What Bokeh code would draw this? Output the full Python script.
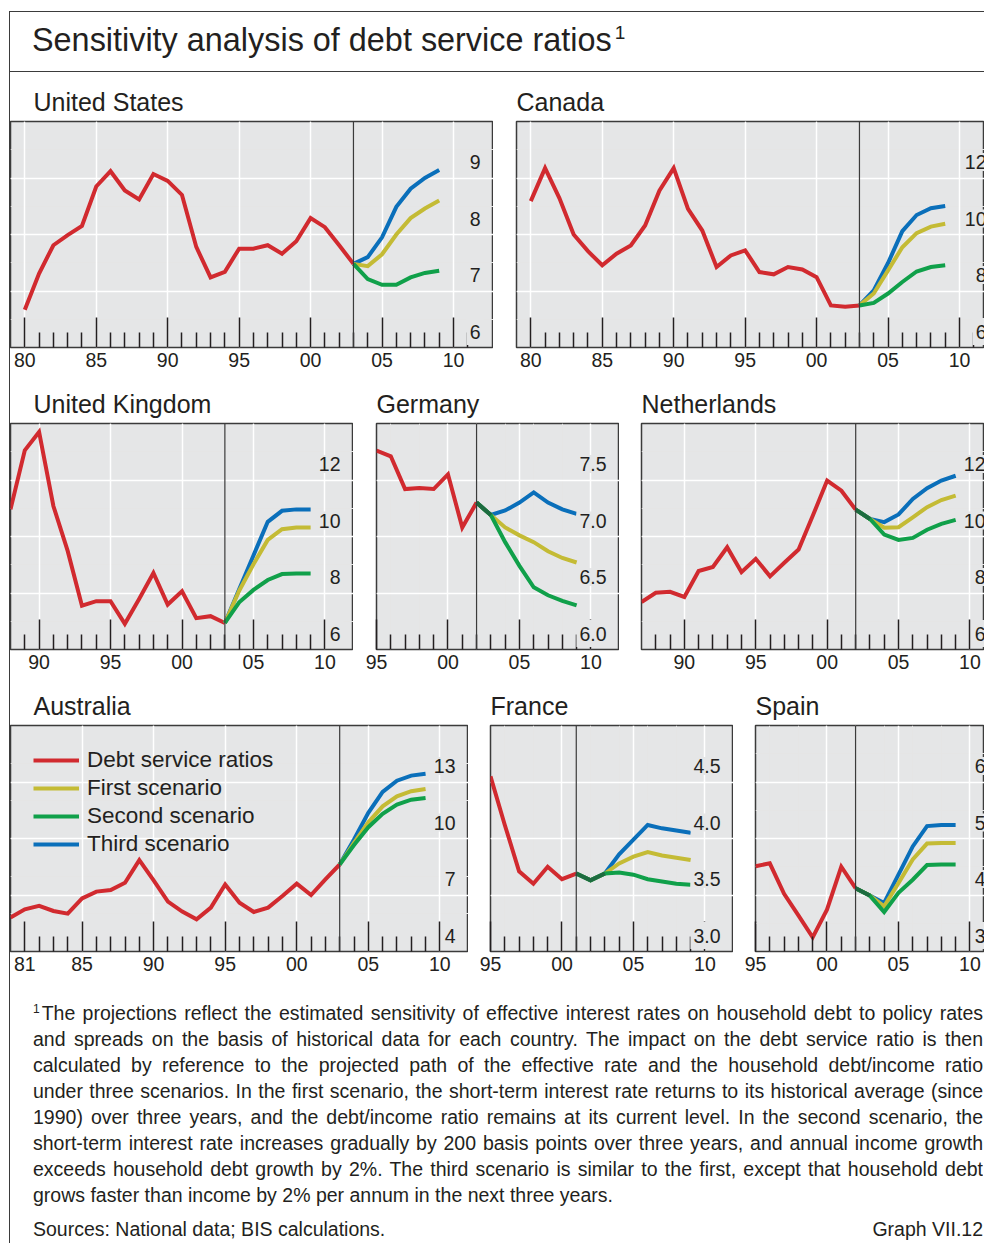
from bokeh.plotting import figure
from bokeh.models import (Range1d, FixedTicker, LinearAxis, Grid, Span, ColumnDataSource,
                          Legend, LegendItem, Div, Spacer)
from bokeh.layouts import row, column
from bokeh.core.properties import value
from bokeh.embed import file_html
from bokeh.resources import INLINE

FONT = "Liberation Sans"
INK = "#231f20"
FRAME = "#3b3b3b"
BG = "#e5e6e7"
RED, YEL, GRN, BLU = "#d12a2f", "#c4bb35", "#10a04a", "#0a6fba"
OVERLAP = "#1d6b40"

SERIES = ["Debt service ratios", "First scenario", "Second scenario", "Third scenario"]

# ---------------- data ----------------
# United States
us_hist_start = 1980
us_dsr = [6.67, 7.31, 7.81, 7.99, 8.15, 8.85, 9.12, 8.78, 8.62, 9.07, 8.95, 8.70,
          7.78, 7.24, 7.34, 7.75, 7.75, 7.81, 7.66, 7.88, 8.29, 8.13, 7.81, 7.48]
us_proj_start = 2003
us_first = [7.48, 7.44, 7.65, 8.00, 8.29, 8.46, 8.60]
us_second = [7.48, 7.21, 7.11, 7.11, 7.24, 7.32, 7.36]
us_third = [7.48, 7.60, 7.95, 8.49, 8.81, 9.00, 9.14]
us_yticks = [6, 7, 8, 9]
us_ylabels = ["6", "7", "8", "9"]
us_xyears = [1980, 1985, 1990, 1995, 2000, 2005, 2010]
us_xlabels = ["80", "85", "90", "95", "00", "05", "10"]

# Canada
ca_hist_start = 1980
ca_dsr = [11.18, 12.35, 11.29, 10.00, 9.41, 8.91, 9.32, 9.61, 10.32, 11.55, 12.35, 10.91,
          10.14, 8.85, 9.26, 9.44, 8.67, 8.59, 8.85, 8.76, 8.49, 7.49, 7.44, 7.49]
ca_proj_start = 2003
ca_first = [7.49, 7.91, 8.73, 9.55, 10.05, 10.28, 10.38]
ca_second = [7.49, 7.58, 7.91, 8.32, 8.69, 8.85, 8.91]
ca_third = [7.49, 8.02, 8.99, 10.12, 10.69, 10.93, 11.01]
ca_yticks = [6, 8, 10, 12]
ca_ylabels = ["6", "8", "10", "12"]
ca_xyears = [1980, 1985, 1990, 1995, 2000, 2005, 2010]
ca_xlabels = ["80", "85", "90", "95", "00", "05", "10"]

# United Kingdom
uk_hist_start = 1988
uk_dsr = [10.96, 13.05, 13.70, 11.08, 9.49, 7.55, 7.71, 7.71, 6.91, 7.79, 8.71, 7.59,
          8.06, 7.11, 7.18, 6.94]
uk_proj_start = 2003
uk_first = [6.94, 8.08, 9.02, 9.88, 10.26, 10.32, 10.32]
uk_second = [6.94, 7.67, 8.11, 8.46, 8.67, 8.69, 8.69]
uk_third = [6.94, 8.13, 9.33, 10.52, 10.91, 10.96, 10.96]
uk_yticks = [6, 8, 10, 12]
uk_ylabels = ["6", "8", "10", "12"]
uk_xyears = [1990, 1995, 2000, 2005, 2010]
uk_xlabels = ["90", "95", "00", "05", "10"]

# Germany
de_hist_start = 1995
de_dsr = [7.76, 7.71, 7.42, 7.43, 7.42, 7.55, 7.08, 7.30]
de_proj_start = 2002
de_first = [7.30, 7.19, 7.08, 7.01, 6.95, 6.87, 6.81, 6.77]
de_second = [7.30, 7.19, 6.95, 6.74, 6.55, 6.48, 6.43, 6.39]
de_third = [7.30, 7.19, 7.23, 7.30, 7.39, 7.30, 7.24, 7.20]
de_yticks = [6.0, 6.5, 7.0, 7.5]
de_ylabels = ["6.0", "6.5", "7.0", "7.5"]
de_xyears = [1995, 2000, 2005, 2010]
de_xlabels = ["95", "00", "05", "10"]

# Netherlands
nl_hist_start = 1987
nl_dsr = [7.68, 8.01, 8.04, 7.86, 8.78, 8.92, 9.62, 8.74, 9.21, 8.59, 9.07, 9.54,
          10.74, 11.98, 11.62, 10.95]
nl_proj_start = 2002
nl_first = [10.95, 10.62, 10.31, 10.33, 10.68, 11.04, 11.29, 11.45]
nl_second = [10.95, 10.62, 10.07, 9.88, 9.95, 10.24, 10.45, 10.59]
nl_third = [10.95, 10.62, 10.51, 10.78, 11.33, 11.71, 11.98, 12.15]
nl_yticks = [6, 8, 10, 12]
nl_ylabels = ["6", "8", "10", "12"]
nl_xyears = [1990, 1995, 2000, 2005, 2010]
nl_xlabels = ["90", "95", "00", "05", "10"]

# Australia
au_hist_start = 1980
au_dsr = [5.80, 6.24, 6.42, 6.15, 6.01, 6.82, 7.18, 7.26, 7.65, 8.85, 7.78, 6.65,
          6.12, 5.71, 6.33, 7.56, 6.59, 6.10, 6.33, 6.95, 7.60, 7.00, 7.83, 8.62]
au_proj_start = 2003
au_first = [8.62, 9.77, 10.86, 11.71, 12.24, 12.51, 12.63]
au_second = [8.62, 9.65, 10.60, 11.31, 11.80, 12.06, 12.15]
au_third = [8.62, 9.95, 11.36, 12.47, 13.07, 13.34, 13.44]
au_yticks = [4, 7, 10, 13]
au_ylabels = ["4", "7", "10", "13"]
au_xyears = [1981, 1985, 1990, 1995, 2000, 2005, 2010]
au_xlabels = ["81", "85", "90", "95", "00", "05", "10"]

# France
fr_hist_start = 1995
fr_dsr = [4.55, 4.12, 3.71, 3.60, 3.75, 3.64, 3.69]
fr_proj_start = 2001
fr_first = [3.69, 3.63, 3.69, 3.78, 3.84, 3.88, 3.85, 3.83, 3.81]
fr_second = [3.69, 3.63, 3.69, 3.70, 3.68, 3.64, 3.62, 3.60, 3.59]
fr_third = [3.69, 3.63, 3.69, 3.86, 3.99, 4.12, 4.09, 4.07, 4.05]
fr_yticks = [3.0, 3.5, 4.0, 4.5]
fr_ylabels = ["3.0", "3.5", "4.0", "4.5"]
fr_xyears = [1995, 2000, 2005, 2010]
fr_xlabels = ["95", "00", "05", "10"]

# Spain
es_hist_start = 1995
es_dsr = [4.51, 4.56, 4.02, 3.64, 3.25, 3.74, 4.50, 4.12]
es_proj_start = 2002
es_first = [4.12, 3.99, 3.80, 4.21, 4.63, 4.91, 4.92, 4.92]
es_second = [4.12, 3.99, 3.70, 4.04, 4.27, 4.53, 4.54, 4.54]
es_third = [4.12, 3.99, 3.86, 4.36, 4.86, 5.22, 5.24, 5.24]
es_yticks = [3, 4, 5, 6]
es_ylabels = ["3", "4", "5", "6"]
es_xyears = [1995, 2000, 2005, 2010]
es_xlabels = ["95", "00", "05", "10"]

TITLE = "Sensitivity analysis of debt service ratios"
FOOT_LINES = [
    "The projections reflect the estimated sensitivity of effective interest rates on household debt to policy rates",
    "and spreads on the basis of historical data for each country. The impact on the debt service ratio is then",
    "calculated by reference to the projected path of the effective rate and the household debt/income ratio",
    "under three scenarios. In the first scenario, the short-term interest rate returns to its historical average (since",
    "1990) over three years, and the debt/income ratio remains at its current level. In the second scenario, the",
    "short-term interest rate increases gradually by 200 basis points over three years, and annual income growth",
    "exceeds household debt growth by 2%. The third scenario is similar to the first, except that household debt",
    "grows faster than income by 2% per annum in the next three years.",
]
SOURCES = "Sources: National data; BIS calculations."
GRAPH_NO = "Graph VII.12"

FRAME_H = 226


def panel(name, hist_start, hist, proj_start, s1, s2, s3, yticks, ylabels, xyears, xlabels,
          x0, x1_true, true_w, vis_w, y0, y1, minors, xgrid, border_left,
          title_offset, top, bottom, legend=False):
    ppy = true_w / (x1_true - x0)
    x1_vis = x0 + vis_w / ppy
    p = figure(frame_width=vis_w, frame_height=FRAME_H,
               x_range=Range1d(x0, x1_vis), y_range=Range1d(y0, y1),
               output_backend="svg", toolbar_location=None,
               x_axis_location=None, y_axis_location=None,
               min_border_left=border_left, min_border_right=0,
               min_border_top=top, min_border_bottom=bottom,
               background_fill_color=BG, border_fill_color="white",
               outline_line_color=FRAME, outline_line_width=1.5, title=name)
    p.title.text_font = FONT
    p.title.text_font_size = "25px"
    p.title.text_font_style = "normal"
    p.title.text_color = INK
    p.title.align = "left"
    p.title.offset = title_offset
    p.title.standoff = 12

    p.add_layout(Grid(dimension=0, ticker=FixedTicker(ticks=xgrid),
                      grid_line_color="white", grid_line_width=1.5))
    p.add_layout(Grid(dimension=1, ticker=FixedTicker(ticks=yticks),
                      grid_line_color="white", grid_line_width=1.5))
    p.add_layout(Span(location=proj_start, dimension="height",
                      line_color=FRAME, line_width=1.2))

    hx = list(range(hist_start, hist_start + len(hist)))
    px = list(range(proj_start, proj_start + len(s1)))
    r0 = p.line(hx, hist, line_color=RED, line_width=4, line_join="miter")
    r3 = p.line(px, s3, line_color=BLU, line_width=4, line_join="miter")
    r1 = p.line(px, s1, line_color=YEL, line_width=4, line_join="miter")
    r2 = p.line(px, s2, line_color=GRN, line_width=4, line_join="miter")

    # where all three scenarios coincide the overprinted inks read as a dark green
    n = 0
    while n < len(s1) and s1[n] == s2[n] == s3[n]:
        n += 1
    if n >= 2:
        p.line(px[:n], s1[:n], line_color=OVERLAP, line_width=4, line_join="miter")

    # value labels: the lowest one gets a taller box so that it masks the tick under it
    for sel, pad in ((slice(0, 1), (3, 3, 7, 6)), (slice(1, None), (3, 3, 2, 2))):
        src = ColumnDataSource(dict(x=[x1_true] * len(yticks[sel]), y=yticks[sel],
                                    t=ylabels[sel]))
        tr = p.text(x="x", y="y", text="t", source=src, text_align="right",
                    text_baseline="alphabetic", x_offset=-10, y_offset=-16,
                    text_font=value(FONT), text_font_size="19.5px", text_color=INK,
                    background_fill_color=BG, padding=pad)
        tr.level = "annotation"

    ax = LinearAxis(ticker=FixedTicker(ticks=xyears, minor_ticks=minors),
                    major_label_overrides=dict(zip(xyears, xlabels)),
                    major_tick_in=30, major_tick_out=0,
                    minor_tick_in=15, minor_tick_out=0,
                    major_tick_line_color=INK, minor_tick_line_color=INK,
                    major_tick_line_width=1.5, minor_tick_line_width=1.5,
                    axis_line_color=None, major_label_text_font=FONT,
                    major_label_text_font_size="19.5px",
                    major_label_text_color=INK, major_label_standoff=5)
    p.add_layout(ax, "below")

    if legend:
        items = [LegendItem(label=SERIES[0], renderers=[r0]),
                 LegendItem(label=SERIES[1], renderers=[r1]),
                 LegendItem(label=SERIES[2], renderers=[r2]),
                 LegendItem(label=SERIES[3], renderers=[r3])]
        lg = Legend(items=items, location=(23, 93), glyph_width=46, glyph_height=28,
                    label_height=28, label_standoff=8, spacing=0, padding=0, margin=0,
                    background_fill_alpha=0, border_line_color=None,
                    label_text_font=FONT, label_text_font_size="22.5px",
                    label_text_color=INK)
        p.add_layout(lg)
    return p


def yrs(a, b):
    return [y for y in range(a, b + 1) if y % 5 != 0]


G80 = [1980, 1985, 1990, 1995, 2000, 2005, 2010]
G90 = [1990, 1995, 2000, 2005, 2010]
G00 = [2000, 2005, 2010]

us = panel("United States", us_hist_start, us_dsr, us_proj_start, us_first, us_second, us_third,
           us_yticks, us_ylabels, us_xyears, us_xlabels,
           1979, 2012.8, 483, 483, 6, 10, yrs(1981, 2011), G80, 0, 23, 49, 27)
ca = panel("Canada", ca_hist_start, ca_dsr, ca_proj_start, ca_first, ca_second, ca_third,
           ca_yticks, ca_ylabels, ca_xyears, ca_xlabels,
           1979, 2012.8, 483, 468, 6, 14, yrs(1981, 2011), G80, 23, 0, 49, 27)
uk = panel("United Kingdom", uk_hist_start, uk_dsr, uk_proj_start, uk_first, uk_second, uk_third,
           uk_yticks, uk_ylabels, uk_xyears, uk_xlabels,
           1988, 2012, 343, 343, 6, 14, yrs(1989, 2009), G90, 0, 23, 49, 27)
de = panel("Germany", de_hist_start, de_dsr, de_proj_start, de_first, de_second, de_third,
           de_yticks, de_ylabels, de_xyears, de_xlabels,
           1995, 2012, 243, 243, 6, 8, yrs(1996, 2009), G00, 23, 0, 49, 27)
nl = panel("Netherlands", nl_hist_start, nl_dsr, nl_proj_start, nl_first, nl_second, nl_third,
           nl_yticks, nl_ylabels, nl_xyears, nl_xlabels,
           1987, 2012, 357, 343, 6, 14, yrs(1988, 2009), G90, 22, 0, 49, 27)
au = panel("Australia", au_hist_start, au_dsr, au_proj_start, au_first, au_second, au_third,
           au_yticks, au_ylabels, au_xyears, au_xlabels,
           1980, 2012, 458, 458, 4, 16, yrs(1982, 2009), G80[1:], 0, 23, 49, 27, legend=True)
fr = panel("France", fr_hist_start, fr_dsr, fr_proj_start, fr_first, fr_second, fr_third,
           fr_yticks, fr_ylabels, fr_xyears, fr_xlabels,
           1995, 2012, 243, 243, 3, 5, yrs(1996, 2009), G00, 22, 0, 49, 27)
es = panel("Spain", es_hist_start, es_dsr, es_proj_start, es_first, es_second, es_third,
           es_yticks, es_ylabels, es_xyears, es_xlabels,
           1995, 2012, 243, 229, 3, 7, yrs(1996, 2009), G00, 22, 0, 49, 27)

title_html = (
    '<div style="box-sizing:border-box;margin:11px 0 0 9px;width:975px;height:61px;'
    'border-top:1.5px solid %s;border-left:1.5px solid %s;border-bottom:1.5px solid %s;'
    'position:relative;font-family:\'Liberation Sans\';color:%s;">'
    '<div style="position:absolute;left:22px;top:12px;font-size:32.4px;line-height:32px;'
    'white-space:nowrap;">%s<span style="font-size:19px;line-height:0;position:relative;'
    'top:-12px;margin-left:3px;">1</span></div></div>' % (FRAME, FRAME, FRAME, INK, TITLE)
)
title_div = Div(text=title_html, width=984, height=72, margin=0)

lines_html = ""
for i, ln in enumerate(FOOT_LINES):
    txt = ln
    if i == 0:
        txt = ('<span style="font-size:12px;line-height:0;position:relative;top:-7px;'
               'margin-right:2px;">1</span>' + ln)
    if i < len(FOOT_LINES) - 1:
        lines_html += ('<div style="width:950px;height:26px;text-align:justify;'
                       'text-align-last:justify;">%s</div>' % txt)
    else:
        lines_html += '<div style="width:950px;height:26px;">%s</div>' % txt
FOOT_H = 262
foot_html = (
    '<div style="box-sizing:border-box;height:%dpx;overflow:hidden;padding:22px 0 0 23px;'
    'font-family:\'Liberation Sans\';font-size:19.5px;line-height:26px;color:%s;">%s'
    '<div style="width:950px;margin-top:9px;line-height:24px;display:flex;'
    'justify-content:space-between;"><span>%s</span><span>%s</span></div></div>'
    % (FOOT_H, INK, lines_html, SOURCES, GRAPH_NO)
)
foot_div = Div(text=foot_html, width=974, height=FOOT_H, margin=0)

body = column([row([us, ca], spacing=0), row([uk, de, nl], spacing=0),
               row([au, fr, es], spacing=0), foot_div], spacing=0)
vline = Div(text="", width=1, height=1171, margin=0, styles={"background-color": FRAME})
root = column([title_div, row([Spacer(width=9, height=1, margin=0), vline, body], spacing=0)],
              spacing=0)

open("out.html", "w").write(file_html(root, INLINE))
